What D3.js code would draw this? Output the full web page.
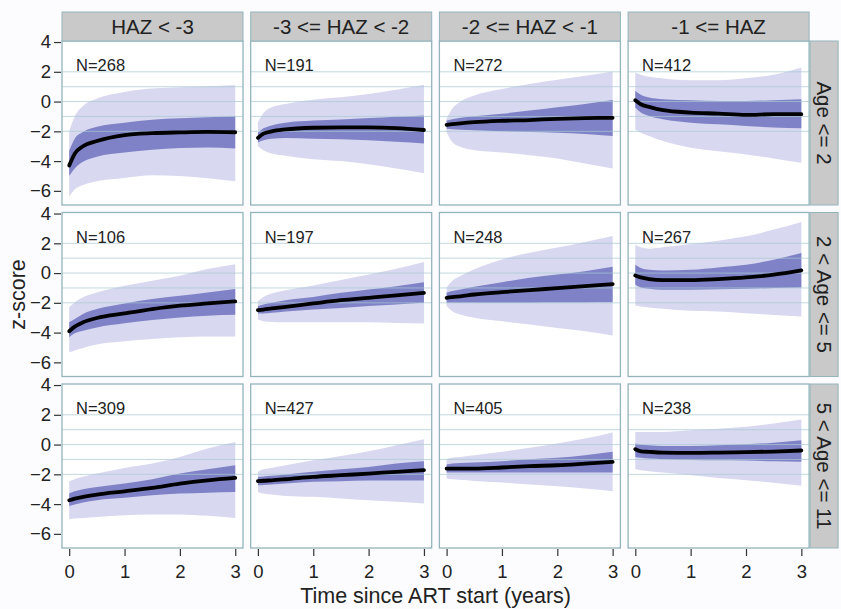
<!DOCTYPE html>
<html>
<head>
<meta charset="utf-8">
<script src="https://cdn.jsdelivr.net/npm/d3@7"></script>
<style>
  body { margin: 0; background: #fcfcfe; }
  text { font-family: "Liberation Sans", Arial, sans-serif; fill: #222; }
</style>
</head>
<body>
<svg class="target" width="841" height="609"></svg>
<script>
// time points (years since ART start) at which the curves were read
const tYears = [0, 0.1, 0.25, 0.5, 1, 1.5, 2, 2.5, 3];
const hazGroups = ["HAZ < -3", "-3 <= HAZ < -2", "-2 <= HAZ < -1", "-1 <= HAZ"];
const ageGroups = ["Age <= 2", "2 < Age <= 5", "5 < Age <= 11"];
const nCounts = [268, 191, 272, 412, 106, 197, 248, 267, 309, 427, 405, 238];
const yTicks = [-6, -4, -2, 0, 2, 4];
const refLines = [-2, -1, 0, 1, 2];
const xTicks = [0, 1, 2, 3];

// one row per panel, row by row (age), left to right (HAZ)
const meanZ = [
  [-4.3, -3.5, -3.0, -2.65, -2.25, -2.12, -2.07, -2.04, -2.06],
  [-2.44, -2.16, -2.0, -1.87, -1.76, -1.73, -1.73, -1.78, -1.91],
  [-1.56, -1.52, -1.46, -1.38, -1.29, -1.24, -1.16, -1.11, -1.09],
  [0.09, -0.18, -0.36, -0.58, -0.74, -0.81, -0.9, -0.85, -0.85],
  [-3.91, -3.6, -3.31, -3.02, -2.71, -2.42, -2.19, -2.04, -1.9],
  [-2.49, -2.45, -2.38, -2.27, -2.04, -1.82, -1.66, -1.5, -1.33],
  [-1.66, -1.62, -1.56, -1.44, -1.28, -1.15, -1.01, -0.88, -0.74],
  [-0.16, -0.29, -0.4, -0.47, -0.47, -0.4, -0.29, -0.11, 0.18],
  [-3.74, -3.63, -3.52, -3.36, -3.14, -2.91, -2.62, -2.4, -2.24],
  [-2.46, -2.43, -2.4, -2.33, -2.17, -2.06, -1.95, -1.83, -1.72],
  [-1.61, -1.61, -1.61, -1.61, -1.54, -1.45, -1.39, -1.28, -1.16],
  [-0.31, -0.45, -0.49, -0.54, -0.56, -0.54, -0.51, -0.47, -0.4]
];
const innerHi = [
  [-3.3, -2.5, -2.05, -1.7, -1.42, -1.22, -1.12, -1.05, -0.99],
  [-2.1, -1.8, -1.6, -1.42, -1.27, -1.2, -1.11, -1.02, -0.93],
  [-1.27, -1.18, -1.08, -0.98, -0.82, -0.6, -0.38, -0.16, 0.11],
  [0.72, 0.45, 0.27, 0.16, 0.09, 0.04, 0.04, 0.09, 0.16],
  [-3.31, -3.09, -2.75, -2.42, -2.04, -1.74, -1.52, -1.3, -1.07],
  [-2.22, -2.11, -2.0, -1.82, -1.6, -1.33, -1.1, -0.88, -0.61],
  [-1.33, -1.21, -1.1, -0.92, -0.61, -0.31, -0.09, 0.13, 0.43],
  [0.56, 0.34, 0.22, 0.18, 0.22, 0.38, 0.56, 0.9, 1.35],
  [-3.29, -3.14, -3.0, -2.85, -2.62, -2.33, -1.95, -1.66, -1.39],
  [-2.17, -2.14, -2.1, -2.01, -1.83, -1.66, -1.5, -1.28, -1.12],
  [-1.34, -1.28, -1.23, -1.21, -1.12, -0.98, -0.89, -0.72, -0.49],
  [0.07, 0.0, -0.04, -0.09, -0.09, -0.04, 0.02, 0.13, 0.29]
];
const innerLo = [
  [-5.0, -4.5, -4.05, -3.7, -3.42, -3.23, -3.12, -3.08, -3.16],
  [-2.75, -2.6, -2.5, -2.45, -2.49, -2.53, -2.6, -2.7, -2.82],
  [-1.82, -1.86, -1.9, -1.93, -2.0, -2.04, -2.09, -2.18, -2.31],
  [-0.4, -0.74, -0.97, -1.19, -1.42, -1.53, -1.64, -1.75, -1.8],
  [-4.32, -4.05, -3.87, -3.65, -3.38, -3.15, -2.98, -2.86, -2.8],
  [-2.72, -2.72, -2.67, -2.58, -2.45, -2.34, -2.22, -2.11, -2.0],
  [-2.0, -2.0, -2.0, -2.0, -2.0, -1.99, -1.98, -1.97, -1.96],
  [-0.79, -0.97, -1.06, -1.12, -1.12, -1.08, -1.06, -1.01, -0.97],
  [-4.12, -4.03, -3.9, -3.74, -3.58, -3.4, -3.29, -3.23, -3.18],
  [-2.73, -2.71, -2.68, -2.62, -2.5, -2.46, -2.42, -2.42, -2.42],
  [-1.88, -1.88, -1.88, -1.88, -1.88, -1.88, -1.88, -1.88, -1.88],
  [-0.83, -0.89, -0.94, -0.98, -1.03, -1.05, -1.07, -1.12, -1.16]
];
const outerHi = [
  [-2.0, -1.0, -0.3, 0.2, 0.65, 0.87, 0.97, 1.03, 1.09],
  [-1.4, -0.76, -0.38, -0.16, 0.13, 0.29, 0.51, 0.8, 1.13],
  [-1.16, -0.49, 0.0, 0.4, 0.84, 1.18, 1.47, 1.73, 2.02],
  [1.96, 1.8, 1.66, 1.55, 1.44, 1.44, 1.57, 1.8, 2.29],
  [-2.3, -1.97, -1.63, -1.3, -0.85, -0.51, -0.18, 0.27, 0.6],
  [-1.89, -1.6, -1.37, -1.15, -0.83, -0.47, -0.09, 0.29, 0.74],
  [-0.99, -0.54, -0.2, 0.25, 0.92, 1.37, 1.71, 2.09, 2.49],
  [1.91, 1.73, 1.64, 1.73, 1.96, 2.18, 2.47, 2.92, 3.44],
  [-2.47, -2.33, -2.17, -1.95, -1.57, -1.28, -0.83, -0.27, 0.17],
  [-1.83, -1.66, -1.57, -1.39, -1.05, -0.76, -0.45, -0.04, 0.36],
  [-0.98, -0.89, -0.83, -0.72, -0.49, -0.22, 0.07, 0.4, 0.81],
  [0.85, 0.85, 0.85, 0.85, 0.96, 1.07, 1.19, 1.41, 1.68]
];
const outerLo = [
  [-6.4, -5.9, -5.6, -5.35, -5.13, -4.95, -5.0, -5.15, -5.35],
  [-3.0, -3.27, -3.49, -3.64, -3.87, -4.0, -4.22, -4.49, -4.82],
  [-2.04, -2.71, -3.04, -3.27, -3.42, -3.6, -3.82, -4.16, -4.49],
  [-1.87, -2.09, -2.31, -2.65, -3.1, -3.33, -3.55, -3.82, -4.11],
  [-5.32, -5.2, -5.03, -4.8, -4.58, -4.43, -4.32, -4.27, -4.27],
  [-3.12, -3.24, -3.28, -3.3, -3.3, -3.3, -3.3, -3.35, -3.39],
  [-2.22, -2.56, -2.79, -3.01, -3.24, -3.46, -3.69, -3.91, -4.2],
  [-2.18, -2.25, -2.31, -2.4, -2.54, -2.58, -2.7, -2.81, -2.92],
  [-5.02, -4.97, -4.93, -4.86, -4.75, -4.7, -4.7, -4.79, -4.93],
  [-3.18, -3.29, -3.36, -3.45, -3.51, -3.62, -3.74, -3.85, -3.96],
  [-2.28, -2.33, -2.37, -2.44, -2.55, -2.68, -2.8, -2.95, -3.13],
  [-1.66, -1.72, -1.79, -1.88, -2.06, -2.24, -2.39, -2.57, -2.77]
];

const svg = d3.select(".target");
const marginLeft = 62, marginTop = 41;
const pw = 181, ph = 164, gapX = 7.7, gapY = 7.5;
const stripH = 29, stripW = 28;
const borderCol = "#93b4bc";

const x = d3.scaleLinear().domain([-0.13, 3.14]).range([0, pw]);
const y = d3.scaleLinear().domain([-6.95, 4.07]).range([ph, 0]);

const area = (lo, hi) => d3.area()
  .x((d, i) => x(tYears[i]))
  .y0((d, i) => y(lo[i]))
  .y1((d, i) => y(hi[i]))
  .curve(d3.curveMonotoneX)(tYears);
const line = d3.line()
  .x((d, i) => x(tYears[i]))
  .y(d => y(d))
  .curve(d3.curveMonotoneX);

ageGroups.forEach((age, r) => {
  hazGroups.forEach((haz, c) => {
    const k = r * hazGroups.length + c;
    const g = svg.append("g")
      .attr("transform", `translate(${marginLeft + c * (pw + gapX)},${marginTop + r * (ph + gapY)})`);

    g.append("rect").attr("width", pw).attr("height", ph).attr("fill", "#fff");

    g.append("path").attr("d", area(outerLo[k], outerHi[k])).attr("fill", "#d8d8f0");
    g.append("path").attr("d", area(innerLo[k], innerHi[k])).attr("fill", "#7f82c6");

    g.selectAll(".ref").data(refLines).join("line")
      .attr("x1", 0).attr("x2", pw)
      .attr("y1", d => y(d)).attr("y2", d => y(d))
      .attr("stroke", "#a9cad3").attr("stroke-width", 1).attr("opacity", 0.7);

    g.append("path").attr("d", line(meanZ[k]))
      .attr("fill", "none").attr("stroke", "#000").attr("stroke-width", 3.8)
      .attr("stroke-linecap", "round");

    g.append("text").attr("x", 14).attr("y", 30)
      .style("font-size", "16.5px").text("N=" + nCounts[k]);

    g.append("rect").attr("width", pw).attr("height", ph)
      .attr("fill", "none").attr("stroke", borderCol).attr("stroke-width", 1.3);

    if (c === 0) {
      const ax = g.append("g").attr("transform", "translate(-1,0)")
        .call(d3.axisLeft(y).tickValues(yTicks).tickSize(7).tickPadding(3));
      ax.select(".domain").remove();
      ax.selectAll("line").attr("stroke", "#333").attr("stroke-width", 1.2);
      ax.selectAll("text").style("font-size", "18.5px");
    }
    if (r === ageGroups.length - 1) {
      const ax = g.append("g").attr("transform", `translate(0,${ph + 1})`)
        .call(d3.axisBottom(x).tickValues(xTicks).tickFormat(d3.format("d"))
          .tickSize(7).tickPadding(9));
      ax.select(".domain").remove();
      ax.selectAll("line").attr("stroke", "#333").attr("stroke-width", 1.2);
      ax.selectAll("text").style("font-size", "18.5px");
    }
    if (r === 0) {
      g.append("rect").attr("y", -stripH).attr("width", pw).attr("height", stripH)
        .attr("fill", "#c9c9c9").attr("stroke", borderCol).attr("stroke-width", 1);
      g.append("text").attr("x", pw / 2).attr("y", -stripH / 2).attr("dy", "0.36em")
        .attr("text-anchor", "middle").style("font-size", "20.5px").text(haz);
    }
    if (c === hazGroups.length - 1) {
      g.append("rect").attr("x", pw + 1).attr("width", stripW).attr("height", ph)
        .attr("fill", "#c9c9c9").attr("stroke", borderCol).attr("stroke-width", 1);
      g.append("text")
        .attr("transform", `translate(${pw + 1 + stripW / 2},${ph / 2}) rotate(90)`)
        .attr("dy", "0.36em").attr("text-anchor", "middle")
        .style("font-size", "20.5px").text(age);
    }
  });
});

const plotW = 4 * pw + 3 * gapX, plotH = 3 * ph + 2 * gapY;
svg.append("text")
  .attr("x", marginLeft + plotW / 2).attr("y", 603)
  .attr("text-anchor", "middle").style("font-size", "21.5px")
  .text("Time since ART start (years)");
svg.append("text")
  .attr("transform", `translate(25,${marginTop + plotH / 2}) rotate(-90)`)
  .attr("text-anchor", "middle").style("font-size", "21.5px")
  .text("z-score");
</script>
</body>
</html>
